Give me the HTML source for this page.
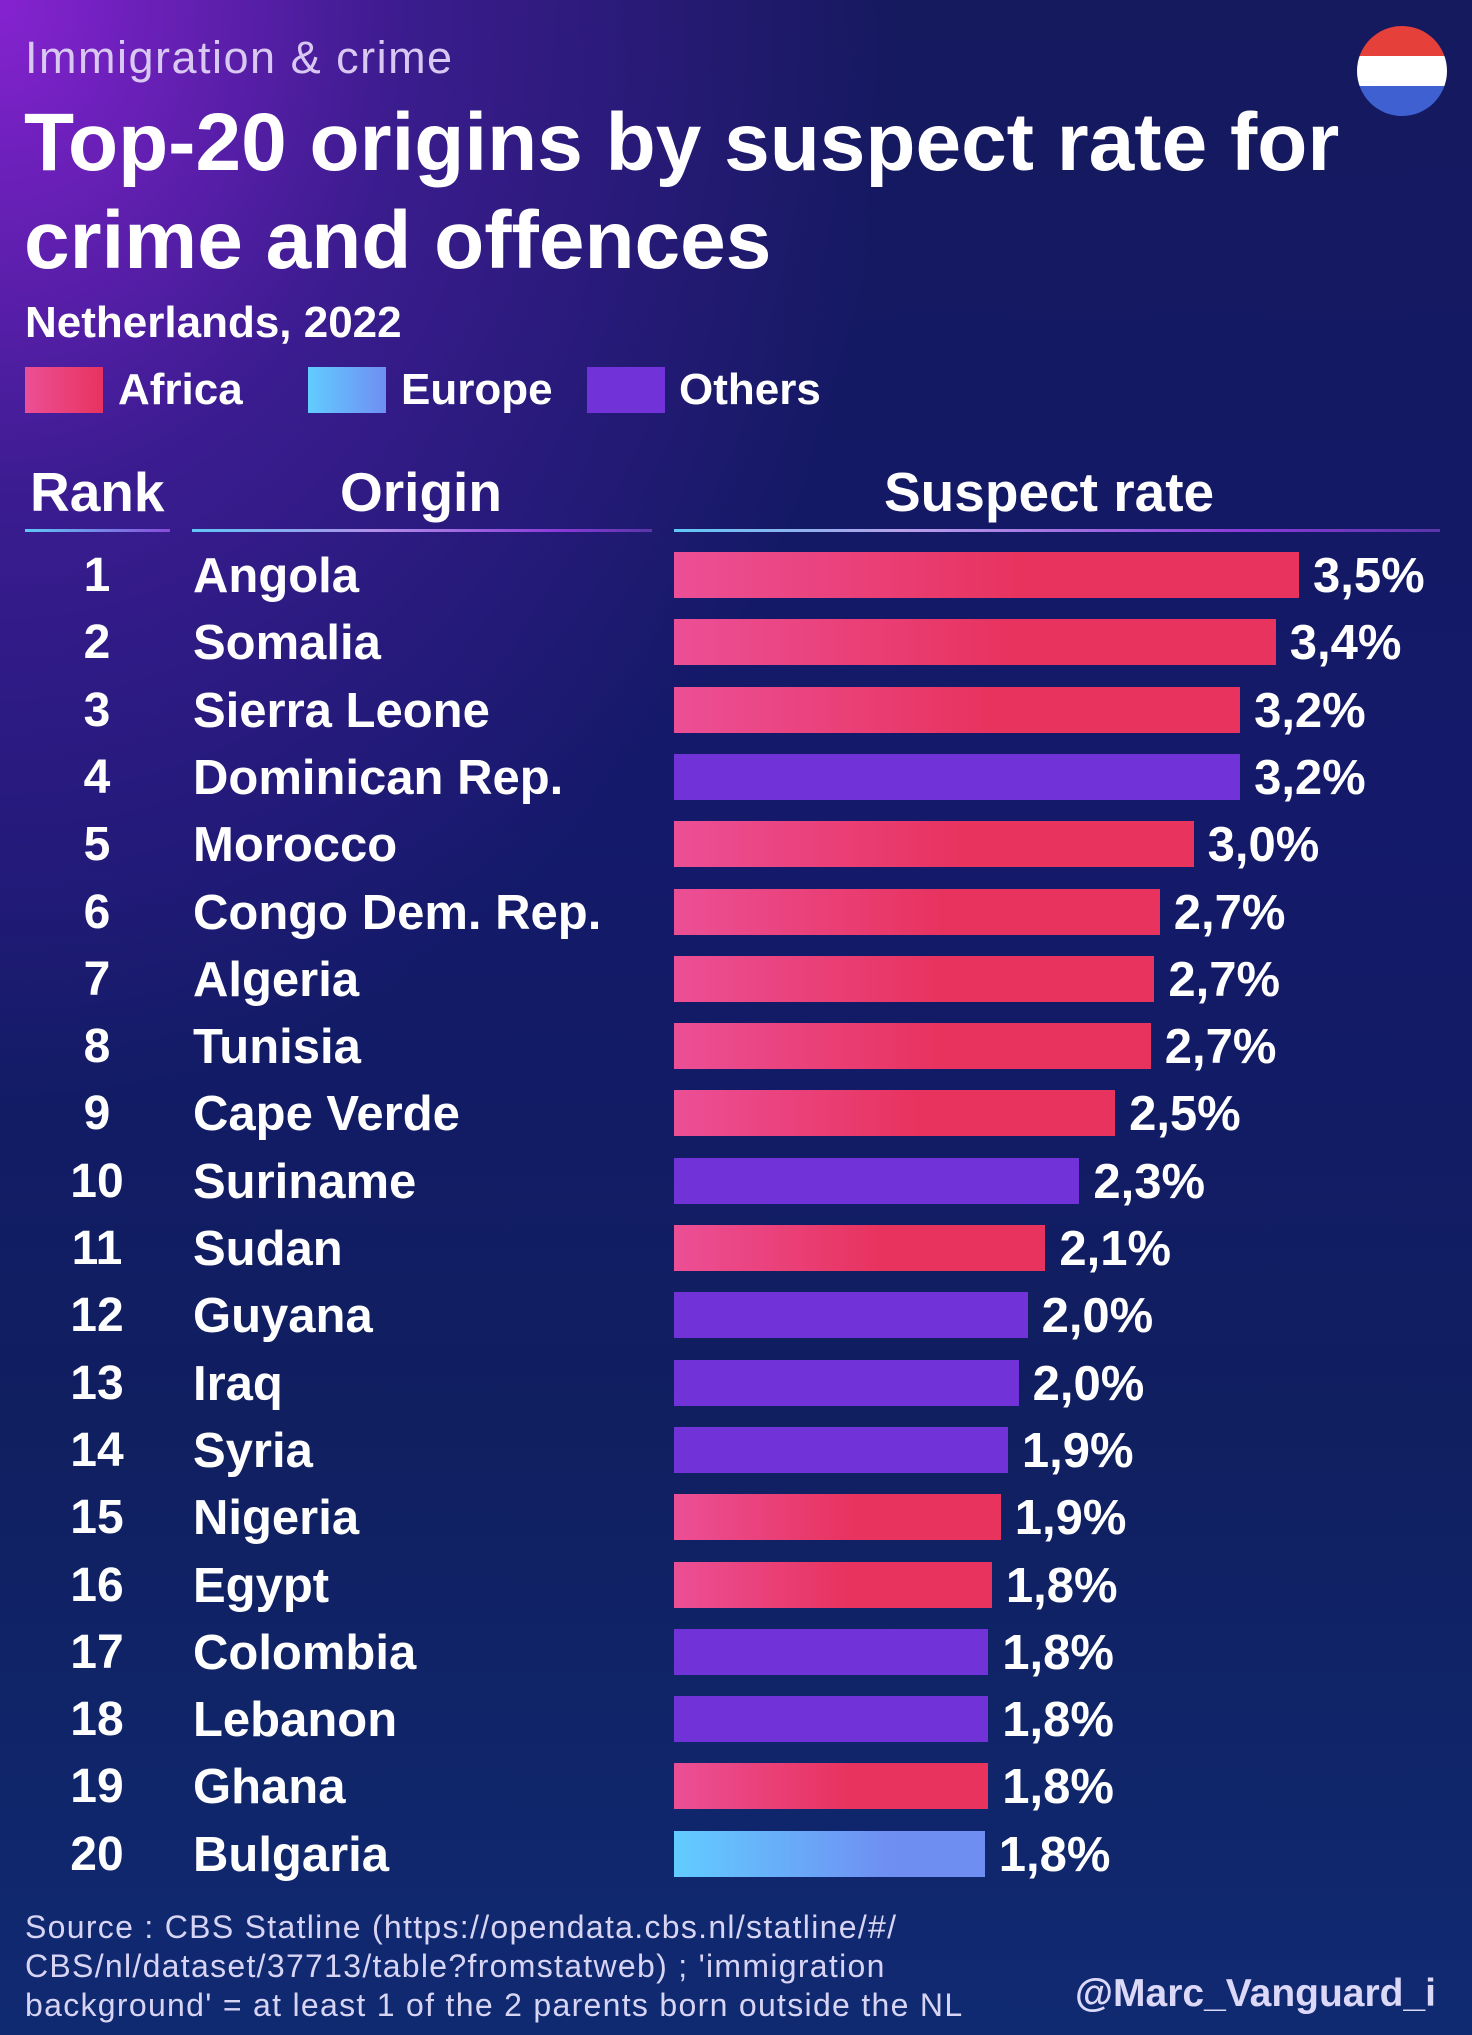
<!DOCTYPE html>
<html><head><meta charset="utf-8">
<style>
html,body{margin:0;padding:0}
body{width:1472px;height:2035px;overflow:hidden;position:relative;font-family:"Liberation Sans",sans-serif;color:#fff;
background:
radial-gradient(ellipse 900px 1100px at 0px 0px, rgba(140,35,215,0.95), rgba(90,30,180,0.55) 45%, rgba(40,25,120,0) 100%),
linear-gradient(180deg,#15195e 0%,#14196a 40%,#101f60 70%,#102a72 100%);}
.abs{position:absolute;white-space:nowrap}
</style></head><body>
<div class="abs" style="left:25px;top:32px;font-size:45px;color:#d9c8f2;font-weight:300;letter-spacing:1.5px">Immigration &amp; crime</div>
<div class="abs" style="left:24px;top:94px;font-size:82px;font-weight:bold;line-height:98px">Top-20 origins by suspect rate for<br>crime and offences</div>
<div class="abs" style="left:25px;top:298px;font-size:44px;font-weight:bold">Netherlands, 2022</div>
<svg class="abs" style="left:1357px;top:26px" width="90" height="90" viewBox="0 0 90 90">
<defs><clipPath id="c"><circle cx="45" cy="45" r="45"/></clipPath></defs>
<g clip-path="url(#c)"><rect width="90" height="30" fill="#e5403a"/><rect y="30" width="90" height="30" fill="#fff"/><rect y="60" width="90" height="30" fill="#3e60d0"/></g></svg>
<div>
<div class="abs" style="left:25px;top:367px;width:78px;height:46px;background:linear-gradient(90deg,#ec4f96,#e8335f)"></div>
<div class="abs" style="left:118px;top:365px;font-size:44px;font-weight:bold">Africa</div>
<div class="abs" style="left:308px;top:367px;width:78px;height:46px;background:linear-gradient(90deg,#62ccff,#6f8ef2)"></div>
<div class="abs" style="left:401px;top:365px;font-size:44px;font-weight:bold">Europe</div>
<div class="abs" style="left:587px;top:367px;width:78px;height:46px;background:#7132d8"></div>
<div class="abs" style="left:679px;top:365px;font-size:44px;font-weight:bold">Others</div>
</div>
<div class="abs" style="left:30px;top:460px;font-size:55px;font-weight:bold">Rank</div>
<div class="abs" style="left:340px;top:460px;font-size:55px;font-weight:bold">Origin</div>
<div class="abs" style="left:884px;top:460px;font-size:55px;font-weight:bold">Suspect rate</div>
<div class="abs" style="left:25px;top:529px;width:145px;height:3px;background:linear-gradient(90deg,#5fc8f5,#8a4ad8)"></div>
<div class="abs" style="left:192px;top:529px;width:460px;height:3px;background:linear-gradient(90deg,#5fc8f5,#b28ee8 40%,#8a3ad8 80%,#5a36a8)"></div>
<div class="abs" style="left:674px;top:529px;width:766px;height:3px;background:linear-gradient(90deg,#5fc8f5,#b8a0ea 30%,#8a3ad8 75%,#5a36a8)"></div>
<div id="rows"></div>
<div class="abs" style="left:25px;top:1908px;font-size:32px;line-height:39px;color:#d8d4f4;font-weight:300;letter-spacing:1.3px"><b>Source :</b> CBS Statline (https://opendata.cbs.nl/statline/#/<br>CBS/nl/dataset/37713/table?fromstatweb) ; 'immigration<br>background' = at least 1 of the 2 parents born outside the NL</div>
<div class="abs" style="left:1075px;top:1972px;font-size:39px;font-weight:bold;color:#dcd8f8">@Marc_Vanguard_i</div>
<script>
const origins=["Angola","Somalia","Sierra Leone","Dominican Rep.","Morocco","Congo Dem. Rep.","Algeria","Tunisia","Cape Verde","Suriname","Sudan","Guyana","Iraq","Syria","Nigeria","Egypt","Colombia","Lebanon","Ghana","Bulgaria"];
const rates=[3.5,3.37,3.17,3.17,2.91,2.72,2.69,2.67,2.47,2.27,2.08,1.98,1.93,1.87,1.83,1.78,1.76,1.76,1.76,1.74];
const rateLabels=["3,5%","3,4%","3,2%","3,2%","3,0%","2,7%","2,7%","2,7%","2,5%","2,3%","2,1%","2,0%","2,0%","1,9%","1,9%","1,8%","1,8%","1,8%","1,8%","1,8%"];
const regions=["Africa","Africa","Africa","Others","Africa","Africa","Africa","Africa","Africa","Others","Africa","Others","Others","Others","Africa","Africa","Others","Others","Africa","Europe"];
const fills={Africa:"linear-gradient(90deg,#ec4f96,#e8335f 55%,#e8335f)",Europe:"linear-gradient(90deg,#62ccff,#6f8ef2 70%)",Others:"#7132d8"};
const x0=674, pxPer=625/3.5, y0=552, pitch=67.3, bh=46;
const xs=v=>v*pxPer;
const rows=document.getElementById('rows');
origins.forEach((o,i)=>{
  const y=y0+i*pitch;
  const r=document.createElement('div');r.className='abs';
  
  
  r.style.cssText=`left:47px;width:100px;text-align:center;top:${y-4}px;font-size:48px;font-weight:bold`;
  r.textContent=i+1;rows.appendChild(r);
  const n=document.createElement('div');n.className='abs';
  
  
  n.style.cssText=`left:193px;top:${y-4}px;font-size:49px;font-weight:bold`;
  n.textContent=o;rows.appendChild(n);
  const w=xs(rates[i]);
  const b=document.createElement('div');b.className='abs';
  
  
  b.style.cssText=`left:${x0}px;top:${y}px;width:${w}px;height:${bh}px;background:${fills[regions[i]]}`;
  rows.appendChild(b);
  const v=document.createElement('div');v.className='abs';
  
  
  v.style.cssText=`left:${x0+w+14}px;top:${y-4}px;font-size:49px;font-weight:bold`;
  v.textContent=rateLabels[i];rows.appendChild(v);
});
</script>
</body></html>
